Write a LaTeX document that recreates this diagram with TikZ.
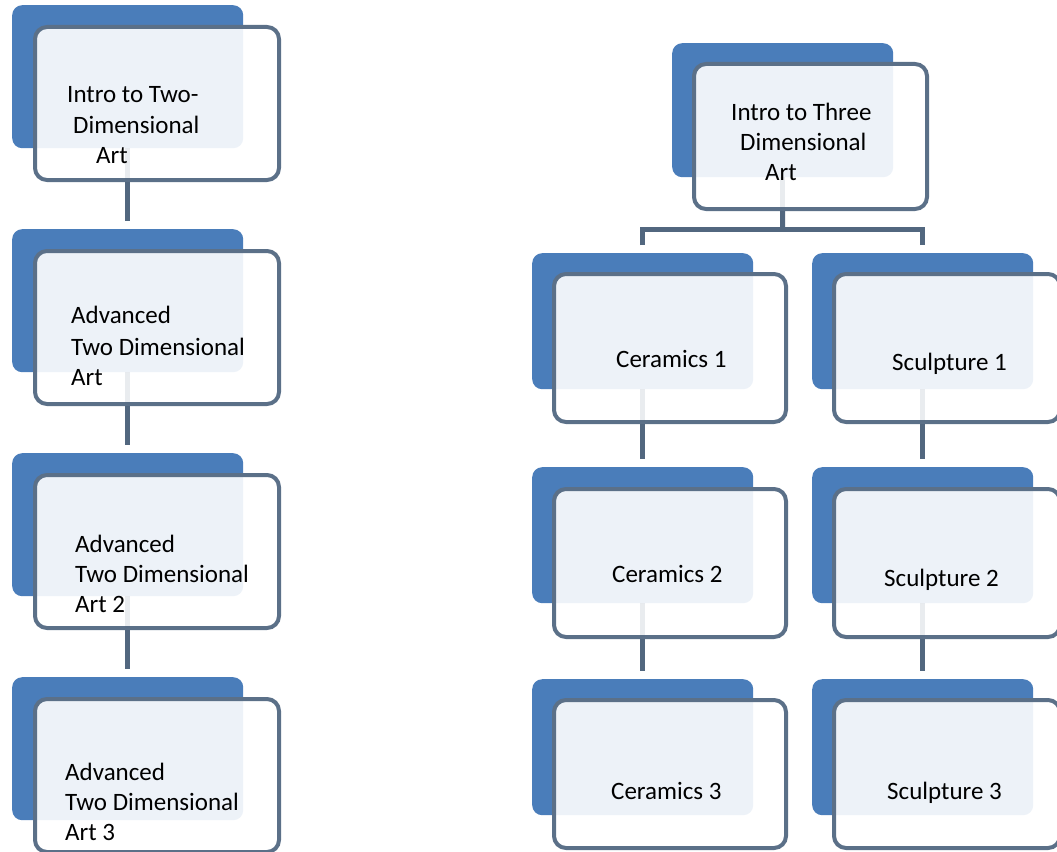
\documentclass[tikz,border=0pt]{standalone}
\usepackage{fontspec}
\setmainfont{Carlito}
\definecolor{backblue}{HTML}{4A7DBA}
\definecolor{edgegray}{HTML}{5B7088}
\definecolor{linkgray}{HTML}{52677F}
\begin{document}
\begin{tikzpicture}[x=1pt,y=-1pt,
  backbox/.style={rectangle,rounded corners=10pt,fill=backblue,inner sep=0pt,anchor=north west},
  frontbox/.style={rectangle,rounded corners=12pt,draw=edgegray,line width=4pt,fill=white,fill opacity=0.9,inner sep=0pt,anchor=north west},
  link/.style={draw=linkgray,line width=5pt},
  txt/.style={anchor=base west,inner sep=0pt,font=\fontsize{25}{30}\selectfont,text=black}]
\useasboundingbox (0,0) rectangle (1057,851);
\fill[white] (0,0) rectangle (1057,851);
% ---------- back boxes (left column)
\foreach \n/\t in {1/5,2/229,3/453,4/677}
  \node[backbox,minimum width=231pt,minimum height=143pt] (Lb\n) at (12,\t) {};
% ---------- back boxes (right)
\node[backbox,minimum width=221pt,minimum height=134pt] (Tb) at (672,43) {};
\foreach \n/\t in {1/253,2/467,3/679}{
  \node[backbox,minimum width=221pt,minimum height=136pt] (Cb\n) at (532,\t) {};
  \node[backbox,minimum width=221pt,minimum height=136pt] (Sb\n) at (812,\t) {};
}
% ---------- connectors (behind the front boxes)
\begin{scope}[on background layer/.style={}]
\end{scope}
\coordinate (bar) at (782.5,229);
% ---------- front boxes
\foreach \n/\t in {1/25,2/249,3/473,4/697}
  \node[frontbox,minimum width=244pt,minimum height=153pt] (L\n) at (33,\t) {};
\node[frontbox,minimum width=233pt,minimum height=145pt] (T) at (692,62) {};
\foreach \n/\t in {1/272,2/487,3/698}{
  \node[frontbox,minimum width=232pt,minimum height=148pt] (C\n) at (552,\t) {};
  \node[frontbox,minimum width=226pt,minimum height=148pt] (S\n) at (832,\t) {};
}
% connectors drawn from the front boxes' lower edge
\draw[link] (L1.south -| Lb1.south) -- ([yshift=8pt]Lb2.north);
\draw[link] (L2.south -| Lb2.south) -- ([yshift=8pt]Lb3.north);
\draw[link] (L3.south -| Lb3.south) -- ([yshift=8pt]Lb4.north);
\draw[link] (T.south -| Tb.south) -- (bar);
\draw[link,line join=miter] ([yshift=8pt]Cb1.north) |- (bar) -| ([yshift=8pt]Sb1.north);
\draw[link] (C1.south -| Cb1.south) -- ([yshift=8pt]Cb2.north);
\draw[link] (C2.south -| Cb2.south) -- ([yshift=8pt]Cb3.north);
\draw[link] (S1.south -| Sb1.south) -- ([yshift=8pt]Sb2.north);
\draw[link] (S2.south -| Sb2.south) -- ([yshift=8pt]Sb3.north);
% faint continuation of connectors inside the front boxes
\foreach \a/\b in {Lb1/L1,Lb2/L2,Lb3/L3,Tb/T,Cb1/C1,Cb2/C2,Sb1/S1,Sb2/S2}
  \draw[draw=linkgray,line width=5pt,draw opacity=0.12] (\a.south) -- ([yshift=2pt]\b.south -| \a.south);
% ---------- texts
\node[txt] (t1a) at (67,102) {Intro to Two-};
\node[txt] (t1b) at (73,133) {Dimensional};
\node[txt] (t1c) at (96,163) {Art};
\node[txt] (t2a) at (71,323) {Advanced};
\node[txt] (t2b) at (71,355) {Two Dimensional};
\node[txt] (t2c) at (71,385) {Art};
\node[txt] (t3a) at (75,552) {Advanced};
\node[txt] (t3b) at (75,582) {Two Dimensional};
\node[txt] (t3c) at (75,612) {Art 2};
\node[txt] (t4a) at (65,780) {Advanced};
\node[txt] (t4b) at (65,810) {Two Dimensional};
\node[txt] (t4c) at (65,840) {Art 3};
\node[txt] (tTa) at (731,120) {Intro to Three};
\node[txt] (tTb) at (740,150) {Dimensional};
\node[txt] (tTc) at (765,180) {Art};
\node[txt] (tC1) at (616,367) {Ceramics 1};
\node[txt] (tS1) at (892,370) {Sculpture 1};
\node[txt] (tC2) at (612,582) {Ceramics 2};
\node[txt] (tS2) at (884,586) {Sculpture 2};
\node[txt] (tC3) at (611,799) {Ceramics 3};
\node[txt] (tS3) at (887,799) {Sculpture 3};
\end{tikzpicture}
\end{document}
